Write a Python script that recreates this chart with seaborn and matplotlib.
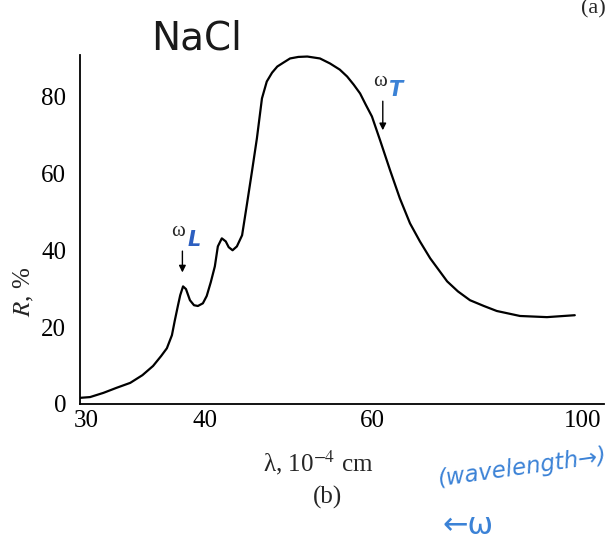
import numpy as np
import pandas as pd
import matplotlib
matplotlib.use("Agg")
import matplotlib.pyplot as plt
import seaborn as sns

# reflectance of NaCl vs wavelength
wavelength = [29.57, 30.3, 31.3, 32.3, 33.4, 34.4, 35.3, 36.0, 36.5, 36.95,
              37.2, 37.5, 37.7, 37.96, 38.23, 38.6, 38.98, 39.35, 39.83, 40.2,
              40.6, 41.0, 41.3, 41.7, 42.1, 42.4, 42.8, 43.25, 43.8, 44.3,
              44.86, 45.4, 45.96, 46.5, 47.1, 47.7, 48.4, 49.2, 50.2, 51.3,
              52.9, 54.2, 55.5, 56.5, 57.4, 58.3, 59.1, 60.0, 61.2, 62.7,
              64.2, 65.8, 67.4, 69.1, 72.0, 73.9, 76.1, 78.7, 81.2, 85.9,
              91.7, 98.1]
reflectance = [1.6, 1.8, 2.9, 4.2, 5.5, 7.5, 9.9, 12.5, 14.5, 17.9,
               21.6, 25.7, 28.3, 30.6, 29.9, 27.0, 25.7, 25.5, 26.2, 28.1,
               31.7, 35.8, 41.0, 43.1, 42.3, 40.8, 40.0, 41.0, 43.9, 51.7,
               60.5, 69.1, 79.5, 83.9, 86.2, 87.8, 88.8, 89.9, 90.3, 90.4,
               89.9, 88.6, 87.0, 85.2, 83.1, 80.8, 77.9, 74.8, 68.6, 60.8,
               53.5, 47.0, 42.3, 37.9, 31.9, 29.3, 27.0, 25.5, 24.2, 22.9,
               22.6, 23.1]
x_ticks = [30, 40, 60, 100]
y_ticks = [0, 20, 40, 60, 80]

df = pd.DataFrame({"lam": wavelength, "R": reflectance})

sns.set_style("white")
plt.rcParams["font.family"] = ["Liberation Serif", "DejaVu Serif"]
plt.rcParams["mathtext.fontset"] = "stix"

W, H = 613, 549
fig = plt.figure(figsize=(W / 100, H / 100), dpi=100)
ax = fig.add_axes([80 / W, 1 - 404 / H, 524 / W, 349 / H])

sns.lineplot(data=df, x="lam", y="R", ax=ax, color="black", linewidth=1.6, sort=False)

ax.set_xscale("log")
ax.set_xlim(29.57, 105.3)
ax.set_ylim(0, 90.8)
ax.set_xticks(x_ticks)
ax.set_xticklabels([str(t) for t in x_ticks])
ax.minorticks_off()
ax.set_yticks(y_ticks)
ax.set_xlabel("")
ax.set_ylabel("")
for s in ["top", "right"]:
    ax.spines[s].set_visible(False)
for s in ["left", "bottom"]:
    ax.spines[s].set_color("black")
    ax.spines[s].set_linewidth(1.3)
ax.tick_params(axis="x", direction="in", length=15, width=1.2, pad=4, labelsize=18, colors="black")
ax.tick_params(axis="y", direction="in", length=13, width=1.2, pad=10, labelsize=18, colors="black")

# arrows marking omega_L and omega_T
arrow = dict(arrowstyle="-|>", color="black", lw=1.0, mutation_scale=10)
ax.annotate("", xy=(37.9, 33.5), xytext=(37.9, 40.5), arrowprops=arrow)
ax.annotate("", xy=(61.6, 70.5), xytext=(61.6, 79.5), arrowprops=arrow)
ax.text(37.5, 42.5, "ω", fontsize=15, ha="center", va="bottom")
ax.text(61.2, 81.5, "ω", fontsize=15, ha="center", va="bottom")
blue = "#3b82d6"
ax.text(39.0, 40.0, "L", fontsize=15, color="#2d5fc0", family="DejaVu Sans",
        fontweight="bold", fontstyle="italic", ha="center", va="bottom")
ax.text(63.6, 79.0, "T", fontsize=15, color=blue, family="DejaVu Sans",
        fontweight="bold", fontstyle="italic", ha="center", va="bottom")

# labels outside the axes
fig.text(318 / W, 1 - 463 / H, "λ, 10$^{-4}$ cm", fontsize=18, ha="center", va="center")
fig.text(327 / W, 1 - 497 / H, "(b)", fontsize=18, ha="center", va="center")
fig.text(24 / W, 1 - 292 / H, "$R$, %", fontsize=18, ha="center", va="center", rotation=90)
fig.text(593 / W, 1 - 9 / H, "(a)", fontsize=16, ha="center", va="center")

# handwritten notes
fig.text(197 / W, 1 - 38 / H, "NaCl", fontsize=28, family="DejaVu Sans", ha="center",
         va="center", color="#1a1a1a")
fig.text(522 / W, 1 - 468 / H, "(wavelength→)", fontsize=16.5, family="DejaVu Sans",
         color=blue, ha="center", va="center", rotation=8, fontstyle="italic")
fig.text(468 / W, 1 - 525 / H, "←ω", fontsize=22, family="DejaVu Sans",
         color=blue, ha="center", va="center")

fig.savefig("out.png", dpi=100)
